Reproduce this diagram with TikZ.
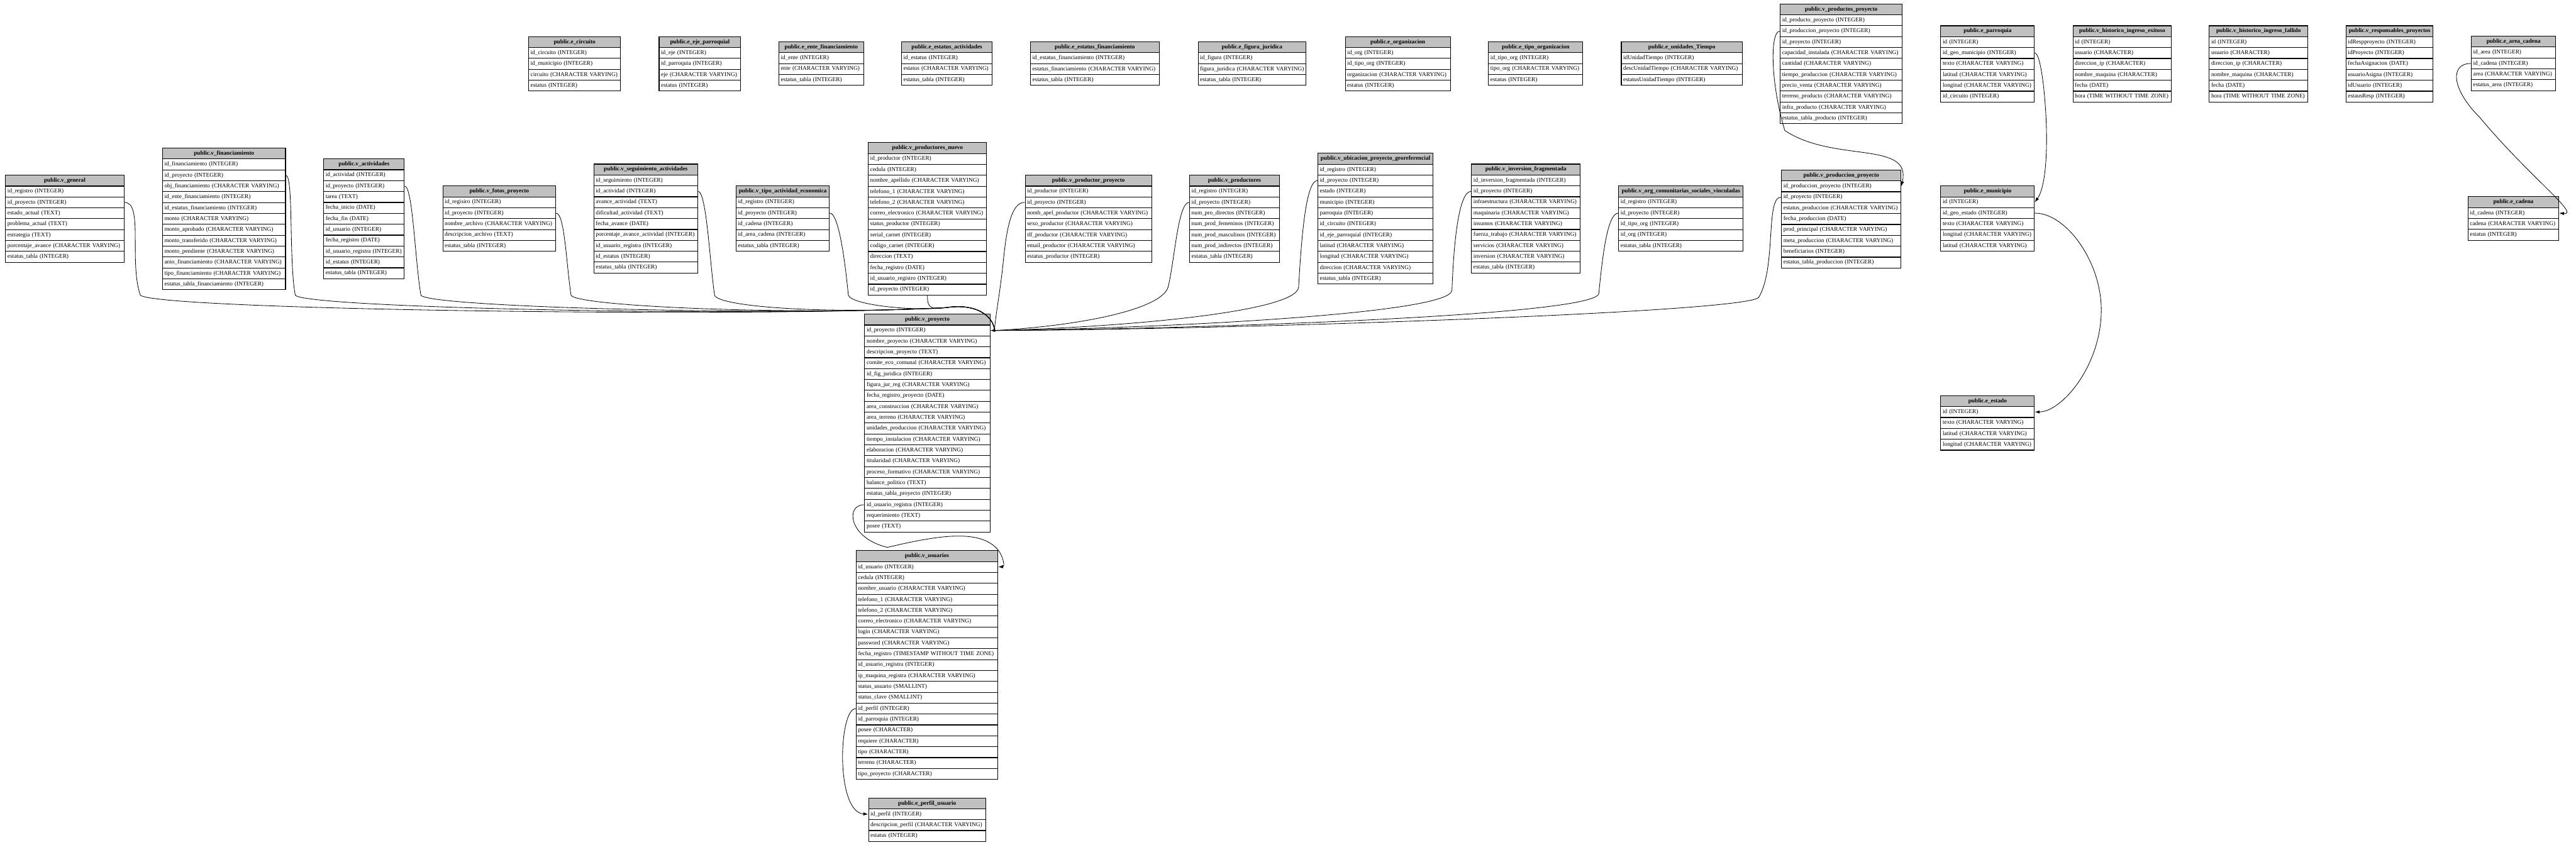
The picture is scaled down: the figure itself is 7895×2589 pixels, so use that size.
\documentclass[tikz,border=0pt]{standalone}
\usepackage{fontspec}
\setmainfont{Liberation Serif}
\usetikzlibrary{arrows.meta}

\definecolor{hdrgray}{HTML}{C0C0C0}

\tikzstyle{tblrow}=[draw, line width=0.6pt, anchor=north west, minimum height=3.34mm, inner xsep=0.6mm, inner ysep=0pt, align=left, font=\fontsize{5.1pt}{6pt}\selectfont]
\tikzstyle{tblhead}=[tblrow, fill=hdrgray, align=center, font=\fontsize{5.1pt}{6pt}\selectfont\bfseries]
\tikzstyle{link}=[line width=0.45pt]
\tikzstyle{arrow}=[link, -{Latex[length=1.5mm, width=1mm]}]

% one table: name, x, y (top left, in px), width (px), title, fields
\newcommand{\dbtable}[6]{%
  \pgfmathsetmacro{\tblw}{#4*0.28453}%
  \pgfmathsetmacro{\txtw}{\tblw-3.414}%
  \node[tblhead, minimum width=\tblw pt, text width=\txtw pt] (#1-0) at (#2,#3) {\mbox{#5}};
  \foreach \fld [count=\k] in {#6}{%
    \node[tblrow, minimum width=\tblw pt, text width=\txtw pt] (#1-\k) at (#2,#3+\k*33.4) {\mbox{\fld}};
  }%
}

\begin{document}
\begin{tikzpicture}[x=0.1mm, y=-0.1mm]
  \path[fill=white, use as bounding box] (0,0) rectangle (7895,2589);

  % catalog tables, top row
  \dbtable{cir}{1619}{111}{282}{public.e\_circuito}{id\_circuito (INTEGER), id\_municipio (INTEGER), circuito (CHARACTER VARYING), estatus (INTEGER)}
  \dbtable{eje}{2019}{111}{250}{public.e\_eje\_parroquial}{id\_eje (INTEGER), id\_parroquia (INTEGER), eje (CHARACTER VARYING), estatus (INTEGER)}
  \dbtable{ente}{2386}{127}{260}{public.e\_ente\_financiamiento}{id\_ente (INTEGER), ente (CHARACTER VARYING), estatus\_tabla (INTEGER)}
  \dbtable{esa}{2762}{127}{278}{public.e\_estatus\_actividades}{id\_estatus (INTEGER), estatus (CHARACTER VARYING), estatus\_tabla (INTEGER)}
  \dbtable{esf}{3157}{127}{395}{public.e\_estatus\_financiamiento}{id\_estatus\_financiamiento (INTEGER), estatus\_financiamiento (CHARACTER VARYING), estatus\_tabla (INTEGER)}
  \dbtable{fig}{3671}{127}{330}{public.e\_figura\_juridica}{id\_figura (INTEGER), figura\_juridica (CHARACTER VARYING), estatus\_tabla (INTEGER)}
  \dbtable{eorg}{4122}{111}{322}{public.e\_organizacion}{id\_org (INTEGER), id\_tipo\_org (INTEGER), organizacion (CHARACTER VARYING), estatus (INTEGER)}
  \dbtable{tor}{4561}{127}{289}{public.e\_tipo\_organizacion}{id\_tipo\_org (INTEGER), tipo\_org (CHARACTER VARYING), estatus (INTEGER)}
  \dbtable{uti}{4968}{127}{371}{public.e\_unidades\_Tiempo}{idUnidadTiempo (INTEGER), descUnidadTiempo (CHARACTER VARYING), estatusUnidadTiempo (INTEGER)}
  \dbtable{ppy}{5455}{11}{374}{public.v\_productos\_proyecto}{id\_producto\_proyecto (INTEGER), id\_produccion\_proyecto (INTEGER), id\_proyecto (INTEGER), capacidad\_instalada (CHARACTER VARYING), cantidad (CHARACTER VARYING), tiempo\_produccion (CHARACTER VARYING), precio\_venta (CHARACTER VARYING), terreno\_producto (CHARACTER VARYING), infra\_producto (CHARACTER VARYING), estatus\_tabla\_producto (INTEGER)}
  \dbtable{par}{5947}{78}{287}{public.e\_parroquia}{id (INTEGER), id\_geo\_municipio (INTEGER), texto (CHARACTER VARYING), latitud (CHARACTER VARYING), longitud (CHARACTER VARYING), id\_circuito (INTEGER)}
  \dbtable{hie}{6352}{78}{302}{public.v\_historico\_ingreso\_exitoso}{id (INTEGER), usuario (CHARACTER), direccion\_ip (CHARACTER), nombre\_maquina (CHARACTER), fecha (DATE), hora (TIME WITHOUT TIME ZONE)}
  \dbtable{hif}{6770}{78}{302}{public.v\_historico\_ingreso\_fallido}{id (INTEGER), usuario (CHARACTER), direccion\_ip (CHARACTER), nombre\_maquina (CHARACTER), fecha (DATE), hora (TIME WITHOUT TIME ZONE)}
  \dbtable{res}{7189}{78}{267}{public.v\_responsables\_proyectos}{idRespproyecto (INTEGER), idProyecto (INTEGER), fechaAsignacion (DATE), usuarioAsigna (INTEGER), idUsuario (INTEGER), estausResp (INTEGER)}
  \dbtable{are}{7573}{110}{259}{public.e\_area\_cadena}{id\_area (INTEGER), id\_cadena (INTEGER), area (CHARACTER VARYING), estatus\_area (INTEGER)}

  % middle row
  \dbtable{gen}{16}{536}{363}{public.v\_general}{id\_registro (INTEGER), id\_proyecto (INTEGER), estado\_actual (TEXT), problema\_actual (TEXT), estrategia (TEXT), porcentaje\_avance (CHARACTER VARYING), estatus\_tabla (INTEGER)}
  \dbtable{fin}{497}{453}{377}{public.v\_financiamiento}{id\_financiamiento (INTEGER), id\_proyecto (INTEGER), obj\_financiamiento (CHARACTER VARYING), id\_ente\_financiamiento (INTEGER), id\_estatus\_financiamiento (INTEGER), monto (CHARACTER VARYING), monto\_aprobado (CHARACTER VARYING), monto\_transferido (CHARACTER VARYING), monto\_pendiente (CHARACTER VARYING), anio\_financiamiento (CHARACTER VARYING), tipo\_financiamiento (CHARACTER VARYING), estatus\_tabla\_financiamiento (INTEGER)}
  \dbtable{act}{991}{486}{247}{public.v\_actividades}{id\_actividad (INTEGER), id\_proyecto (INTEGER), tarea (TEXT), fecha\_inicio (DATE), fecha\_fin (DATE), id\_usuario (INTEGER), fecha\_registro (DATE), id\_usuario\_registra (INTEGER), id\_estatus (INTEGER), estatus\_tabla (INTEGER)}
  \dbtable{fot}{1356}{569}{346}{public.v\_fotos\_proyecto}{id\_regisiro (INTEGER), id\_proyecto (INTEGER), nombre\_archivo (CHARACTER VARYING), descripcion\_archivo (TEXT), estatus\_tabla (INTEGER)}
  \dbtable{seg}{1819}{502}{318}{public.v\_seguimiento\_actividades}{id\_seguimiento (INTEGER), id\_actividad (INTEGER), avance\_actividad (TEXT), dificultad\_actividad (TEXT), fecha\_avance (DATE), porcentaje\_avance\_actividad (INTEGER), id\_usuario\_registra (INTEGER), id\_estatus (INTEGER), estatus\_tabla (INTEGER)}
  \dbtable{tae}{2255}{569}{286}{public.v\_tipo\_actividad\_economica}{id\_registro (INTEGER), id\_proyecto (INTEGER), id\_cadena (INTEGER), id\_area\_cadena (INTEGER), estatus\_tabla (INTEGER)}
  \dbtable{pnu}{2660}{436}{363}{public.v\_productores\_nuevo}{id\_productor (INTEGER), cedula (INTEGER), nombre\_apellido (CHARACTER VARYING), telefono\_1 (CHARACTER VARYING), telefono\_2 (CHARACTER VARYING), correo\_electronico (CHARACTER VARYING), status\_productor (INTEGER), serial\_carnet (INTEGER), codigo\_carnet (INTEGER), direccion (TEXT), fecha\_registro (DATE), id\_usuario\_registro (INTEGER), id\_proyecto (INTEGER)}
  \dbtable{ppr}{3141}{536}{388}{public.v\_productor\_proyecto}{id\_productor (INTEGER), id\_proyecto (INTEGER), nomb\_apel\_productor (CHARACTER VARYING), sexo\_productor (CHARACTER VARYING), tlf\_productor (CHARACTER VARYING), email\_productor (CHARACTER VARYING), estatus\_productor (INTEGER)}
  \dbtable{prd}{3645}{536}{275}{public.v\_productores}{id\_registro (INTEGER), id\_proyecto (INTEGER), num\_pro\_directos (INTEGER), num\_prod\_femeninos (INTEGER), num\_prod\_masculinos (INTEGER), num\_prod\_indirectos (INTEGER), estatus\_tabla (INTEGER)}
  \dbtable{ubi}{4038}{469}{353}{public.v\_ubicacion\_proyecto\_georeferencial}{id\_registro (INTEGER), id\_proyecto (INTEGER), estado (INTEGER), municipio (INTEGER), parroquia (INTEGER), id\_circuito (INTEGER), id\_eje\_parroquial (INTEGER), latitud (CHARACTER VARYING), longitud (CHARACTER VARYING), direccion (CHARACTER VARYING), estatus\_tabla (INTEGER)}
  \dbtable{inv}{4509}{502}{333}{public.v\_inversion\_fragmentada}{id\_inversion\_fragmentada (INTEGER), id\_proyecto (INTEGER), infraestructura (CHARACTER VARYING), maquinaria (CHARACTER VARYING), insumos (CHARACTER VARYING), fuerza\_trabajo (CHARACTER VARYING), servicios (CHARACTER VARYING), inversion (CHARACTER VARYING), estatus\_tabla (INTEGER)}
  \dbtable{org}{4960}{569}{381}{public.v\_org\_comunitarias\_sociales\_vinculadas}{id\_registro (INTEGER), id\_proyecto (INTEGER), id\_tipo\_org (INTEGER), id\_org (INTEGER), estatus\_tabla (INTEGER)}
  \dbtable{pdp}{5459}{520}{366}{public.v\_produccion\_proyecto}{id\_produccion\_proyecto (INTEGER), id\_proyecto (INTEGER), estatus\_produccion (CHARACTER VARYING), fecha\_produccion (DATE), prod\_principal (CHARACTER VARYING), meta\_produccion (CHARACTER VARYING), beneficiarios (INTEGER), estatus\_tabla\_produccion (INTEGER)}
  \dbtable{mun}{5947}{569}{287}{public.e\_municipio}{id (INTEGER), id\_geo\_estado (INTEGER), texto (CHARACTER VARYING), longitud (CHARACTER VARYING), latitud (CHARACTER VARYING)}
  \dbtable{cad}{7563}{602}{278}{public.e\_cadena}{id\_cadena (INTEGER), cadena (CHARACTER VARYING), estatus (INTEGER)}
  \dbtable{est}{5947}{1212}{287}{public.e\_estado}{id (INTEGER), texto (CHARACTER VARYING), latitud (CHARACTER VARYING), longitud (CHARACTER VARYING)}

  % bottom column
  \dbtable{pro}{2649}{962}{384}{public.v\_proyecto}{id\_proyecto (INTEGER), nombre\_proyecto (CHARACTER VARYING), descripcion\_proyecto (TEXT), comite\_eco\_comunal (CHARACTER VARYING), id\_fig\_juridica (INTEGER), figura\_jur\_reg (CHARACTER VARYING), fecha\_registro\_proyecto (DATE), area\_construccion (CHARACTER VARYING), area\_terreno (CHARACTER VARYING), unidades\_produccion (CHARACTER VARYING), tiempo\_instalacion (CHARACTER VARYING), elaboracion (CHARACTER VARYING), titularidad (CHARACTER VARYING), proceso\_formativo (CHARACTER VARYING), balance\_politico (TEXT), estatus\_tabla\_proyecto (INTEGER), id\_usuario\_registra (INTEGER), requerimiento (TEXT), posee (TEXT)}
  \dbtable{usu}{2623}{1687}{434}{public.v\_usuarios}{id\_usuario (INTEGER), cedula (INTEGER), nombre\_usuario (CHARACTER VARYING), telefono\_1 (CHARACTER VARYING), telefono\_2 (CHARACTER VARYING), correo\_electronico (CHARACTER VARYING), login (CHARACTER VARYING), password (CHARACTER VARYING), fecha\_registro (TIMESTAMP WITHOUT TIME ZONE), id\_usuario\_registra (INTEGER), ip\_maquina\_registra (CHARACTER VARYING), status\_usuario (SMALLINT), status\_clave (SMALLINT), id\_perfil (INTEGER), id\_parroquia (INTEGER), posee (CHARACTER), requiere (CHARACTER), tipo (CHARACTER), terreno (CHARACTER), tipo\_proyecto (CHARACTER)}
  \dbtable{per}{2661}{2445}{359}{public.e\_perfil\_usuario}{id\_perfil (INTEGER), descripcion\_perfil (CHARACTER VARYING), estatus (INTEGER)}

  % links into v_proyecto.id_proyecto
  \coordinate (proin) at ([xshift=1.3mm]pro-1.east);
  \draw[arrow] (proin) -- (pro-1.east);
  \draw[link] (gen-2.east) .. controls (440,619) and (395,800) .. (430,905) .. controls (480,950) and (2300,975) .. (2900,943) .. controls (3000,928) and (3046,975) .. (proin);
  \draw[link] (fin-2.east) .. controls (900,537) and (885,800) .. (905,905) .. controls (935,945) and (2350,973) .. (2900,943) .. controls (3000,928) and (3046,975) .. (proin);
  \draw[link] (act-2.east) .. controls (1265,570) and (1272,800) .. (1290,905) .. controls (1310,942) and (2400,970) .. (2900,943) .. controls (3000,928) and (3046,975) .. (proin);
  \draw[link] (fot-2.east) .. controls (1730,652) and (1735,800) .. (1750,905) .. controls (1765,940) and (2450,968) .. (2900,943) .. controls (3000,928) and (3046,975) .. (proin);
  \draw[link] (seg-2.east) .. controls (2165,585) and (2175,800) .. (2190,905) .. controls (2200,938) and (2500,965) .. (2900,943) .. controls (3000,928) and (3046,975) .. (proin);
  \draw[link] (tae-2.east) .. controls (2570,652) and (2590,800) .. (2600,905) .. controls (2610,935) and (2800,955) .. (2900,943) .. controls (3000,928) and (3046,975) .. (proin);
  \draw[link] (pnu-13.south) .. controls (2841,950) and (2860,948) .. (2900,943) .. controls (3000,928) and (3046,975) .. (proin);
  \draw[link] (ppr-2.west) .. controls (3100,619) and (3085,700) .. (3075,800) .. controls (3065,900) and (3050,970) .. (proin);
  \draw[link] (prd-2.west) .. controls (3610,619) and (3600,800) .. (3580,880) .. controls (3560,950) and (3300,1000) .. (proin);
  \draw[link] (ubi-2.west) .. controls (4005,553) and (3990,700) .. (3980,880) .. controls (3975,960) and (3400,1005) .. (proin);
  \draw[link] (inv-2.west) .. controls (4470,586) and (4455,750) .. (4450,890) .. controls (4445,965) and (3500,1008) .. (proin);
  \draw[link] (org-2.west) .. controls (4925,652) and (4910,800) .. (4900,900) .. controls (4890,970) and (3600,1010) .. (proin);
  \draw[link] (pdp-2.west) .. controls (5410,602) and (5445,820) .. (5390,912) .. controls (5340,960) and (3700,1012) .. (proin);

  % other links
  \draw[arrow] (ppy-2.west) .. controls (5425,95) and (5425,250) .. (5470,400) .. controls (5620,500) and (5860,430) .. (pdp-1.east);
  \draw[arrow] (par-2.east) .. controls (6255,162) and (6270,300) .. (6272,400) .. controls (6274,500) and (6265,580) .. (mun-1.east);
  \draw[arrow] (mun-2.east) .. controls (6330,652) and (6440,800) .. (6440,950) .. controls (6440,1120) and (6320,1262) .. (est-1.east);
  \draw[arrow] (are-2.west) .. controls (7510,194) and (7510,270) .. (7600,360) .. controls (7750,540) and (7910,660) .. (cad-1.east);
  \draw[arrow] (usu-14.west) .. controls (2570,2171) and (2560,2490) .. (per-1.west);
  \draw[arrow] (pro-17.west) .. controls (2590,1546) and (2600,1650) .. (2720,1678) .. controls (2880,1640) and (3010,1620) .. (3062,1690) .. controls (3075,1710) and (3080,1737) .. (usu-1.east);
\end{tikzpicture}
\end{document}
